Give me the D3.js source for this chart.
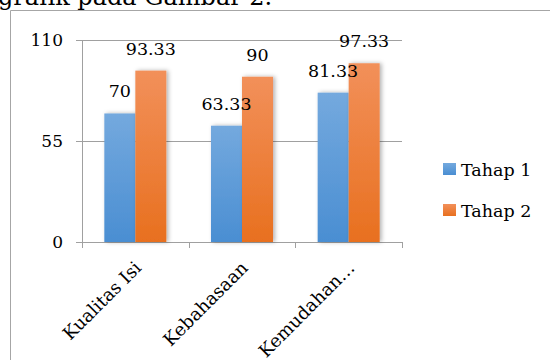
<!DOCTYPE html>
<html><head><meta charset="utf-8">
<script src="https://cdn.jsdelivr.net/npm/d3@7"></script>
<style>body{margin:0;background:#fff;}svg{display:block;}</style>
</head><body>
<script>
const categories = ["Kualitas Isi", "Kebahasaan", "Kemudahan…"];
const seriesNames = ["Tahap 1", "Tahap 2"];
const tahap1 = [70, 63.33, 81.33];
const tahap2 = [93.33, 90, 97.33];
const yTicks = [0, 55, 110];
const valueLabels1 = ["70", "63.33", "81.33"];
const valueLabels2 = ["93.33", "90", "97.33"];

const W = 550, H = 360;
const svg = d3.select("body").append("svg").attr("width", W).attr("height", H);
const font = "'DejaVu Serif', serif";

const defs = svg.append("defs");
const grads = [["gBlue", "#74a9de", "#4a8ed2"], ["gOrange", "#f2905a", "#e8701f"]];
grads.forEach(([id, c1, c2]) => {
  const g = defs.append("linearGradient").attr("id", id).attr("x1", 0).attr("y1", 0).attr("x2", 0).attr("y2", 1);
  g.append("stop").attr("offset", "0%").attr("stop-color", c1);
  g.append("stop").attr("offset", "100%").attr("stop-color", c2);
});
const f = defs.append("filter").attr("id", "sh").attr("x", "-30%").attr("y", "-10%").attr("width", "160%").attr("height", "120%");
f.append("feDropShadow").attr("dx", 2).attr("dy", 0).attr("stdDeviation", 2).attr("flood-color", "#000").attr("flood-opacity", 0.3);

// cropped document text above
svg.append("text").attr("x", -2).attr("y", 5).attr("font-family", font).attr("font-size", 24)
  .attr("fill", "#000").text("grafik pada Gambar 2.");

// outer chart border
svg.append("path").attr("d", "M10.5,362 V10.5 H552").attr("fill", "none").attr("stroke", "#a6a6a6").attr("stroke-width", 1);

const y = d3.scaleLinear().domain([0, 110]).range([242, 40]);
const x0 = d3.scaleBand().domain(categories).range([82, 402]).padding(0);
const x1 = d3.scaleBand().domain(seriesNames).range([0, x0.bandwidth()]).paddingInner(0).paddingOuter(0.72);

// gridlines
const g = svg.append("g");
g.selectAll("line.grid").data(yTicks).join("line")
  .attr("x1", 76).attr("x2", 402).attr("y1", d => Math.round(y(d)) + 0.5).attr("y2", d => Math.round(y(d)) + 0.5)
  .attr("stroke", "#a0a0a0").attr("stroke-width", 1);
g.append("line").attr("x1", 82.5).attr("x2", 82.5).attr("y1", y(110)).attr("y2", y(0)).attr("stroke", "#a0a0a0");
g.selectAll("text.yl").data(yTicks).join("text")
  .attr("x", 63).attr("y", d => y(d) + 6).attr("text-anchor", "end")
  .attr("font-family", font).attr("font-size", 17).attr("fill", "#000").text(d => d);

// category ticks
const tickXs = categories.map(c => x0(c)).concat([x0.range()[1]]);
g.selectAll("line.ct").data(tickXs).join("line")
  .attr("x1", d => Math.round(d) + 0.5).attr("x2", d => Math.round(d) + 0.5)
  .attr("y1", y(0)).attr("y2", y(0) + 6).attr("stroke", "#a0a0a0");

// bars
const data = categories.map((c, i) => ({c, vals: [
  {s: seriesNames[0], v: tahap1[i], lab: valueLabels1[i], fill: "url(#gBlue)"},
  {s: seriesNames[1], v: tahap2[i], lab: valueLabels2[i], fill: "url(#gOrange)"}]}));

const groups = svg.selectAll("g.cat").data(data).join("g").attr("transform", d => `translate(${x0(d.c)},0)`);
groups.selectAll("rect").data(d => d.vals).join("rect")
  .attr("x", d => x1(d.s)).attr("width", x1.bandwidth())
  .attr("y", d => y(d.v)).attr("height", d => y(0) - y(d.v))
  .attr("fill", d => d.fill).attr("filter", "url(#sh)");
groups.selectAll("text").data(d => d.vals).join("text")
  .attr("x", d => x1(d.s) + x1.bandwidth() / 2).attr("y", d => y(d.v) - 16)
  .attr("text-anchor", "middle").attr("font-family", font).attr("font-size", 17.5).attr("fill", "#000")
  .text(d => d.lab);

// x labels
svg.selectAll("text.xl").data(categories).join("text")
  .attr("transform", c => `translate(${x0(c) + x0.bandwidth() / 2 + 7},${y(0) + 27}) rotate(-45)`)
  .attr("text-anchor", "end").attr("font-family", font).attr("font-size", 18).attr("fill", "#000")
  .text(c => c);

// legend
const lg = svg.append("g").attr("transform", "translate(443,163)");
const lc = ["url(#gBlue)", "url(#gOrange)"];
seriesNames.forEach((s, i) => {
  lg.append("rect").attr("x", 0).attr("y", i * 41).attr("width", 13).attr("height", 12).attr("fill", lc[i]);
  lg.append("text").attr("x", 18).attr("y", i * 41 + 13).attr("font-family", font).attr("font-size", 17.5).attr("fill", "#000").text(s);
});
</script>
</body></html>
